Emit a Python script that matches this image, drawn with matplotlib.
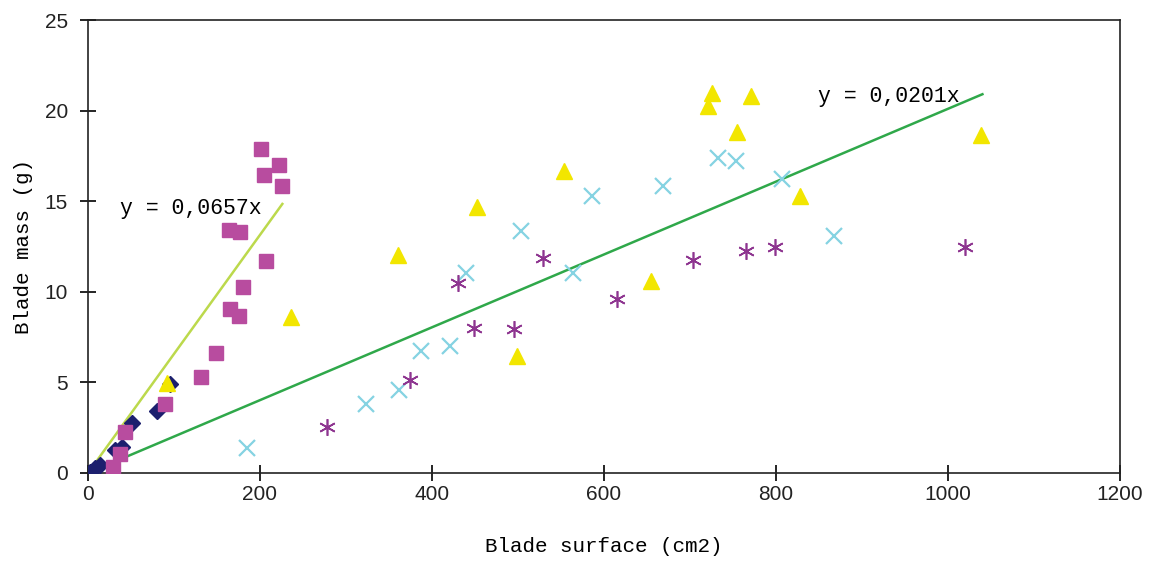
import matplotlib
matplotlib.use('Agg')
import matplotlib.pyplot as plt
import numpy as np

# series: blade surface (cm2) vs blade mass (g)
dia_x = [2, 8, 14, 31, 39, 51, 80, 95]
dia_y = [0.05, 0.25, 0.45, 1.25, 1.45, 2.75, 3.4, 4.9]

sq_x = [29, 37, 43, 90, 131, 149, 165, 176, 180, 207, 164, 177, 201, 205, 222, 226]
sq_y = [0.33, 1.05, 2.26, 3.8, 5.3, 6.62, 9.05, 8.66, 10.26, 11.7, 13.41, 13.3, 17.88, 16.45, 17.0, 15.84]

tri_x = [92, 236, 360, 452, 499, 553, 655, 721, 726, 755, 771, 828, 1038]
tri_y = [4.97, 8.6, 12.03, 14.7, 6.45, 16.67, 10.6, 20.25, 20.97, 18.8, 20.8, 15.3, 18.65]

cx_x = [185, 323, 362, 387, 421, 440, 503, 564, 586, 669, 733, 753, 807, 867]
cx_y = [1.38, 3.8, 4.58, 6.73, 7.0, 11.04, 13.36, 11.04, 15.3, 15.84, 17.38, 17.2, 16.2, 13.08]

ast_x = [278, 374, 430, 449, 495, 529, 615, 703, 765, 799, 1020]
ast_y = [2.55, 5.13, 10.5, 8.0, 7.95, 11.87, 9.6, 11.75, 12.25, 12.47, 12.47]

slope_a, xmax_a = 0.0657, 226
slope_b, xmax_b = 0.0201, 1040

mono = 'Liberation Mono'

fig = plt.figure(figsize=(11.53, 5.62), dpi=100)
ax = fig.add_axes([0.0763, 0.1584, 0.8951, 0.806])

ax.plot(dia_x, dia_y, 'D', color='#1c1f6e', ms=8, mec='#1c1f6e', zorder=3)
ax.plot(sq_x, sq_y, 's', color='#b84c9f', ms=10, zorder=3)
ax.plot(tri_x, tri_y, '^', color='#f2e600', ms=11, zorder=3)
ax.plot(cx_x, cx_y, 'x', color='#85d3e2', ms=11, mew=1.6, zorder=3)
ax.plot(ast_x, ast_y, marker=(6, 2, 0), ls='none', color='#8e3590', ms=12, mew=1.2, zorder=3)

xa = np.array([0, xmax_a])
xb = np.array([0, xmax_b])
ax.plot(xa, slope_a * xa, color='#bcd94c', lw=1.8, zorder=2)
ax.plot(xb, slope_b * xb, color='#2fa84a', lw=1.8, zorder=2)

ax.text(37, 14.6, 'y = 0,0657x', family=mono, fontsize=15.5, va='center')
ax.text(849, 20.8, 'y = 0,0201x', family=mono, fontsize=15.5, va='center')

ax.set_xlim(0, 1200)
ax.set_ylim(0, 25)
ax.set_xticks(range(0, 1201, 200))
ax.set_yticks(range(0, 26, 5))
ax.tick_params(direction='inout', length=11, width=1.2, labelsize=15)
ax.tick_params(axis='y', pad=9)
ax.tick_params(axis='x', pad=3)
for lab in ax.get_xticklabels() + ax.get_yticklabels():
    lab.set_family('Liberation Sans')
    lab.set_color('#222222')
for s in ax.spines.values():
    s.set_linewidth(1.2)
    s.set_color('#222222')

ax.set_xlabel('Blade surface (cm2)', family=mono, fontsize=15, labelpad=24)
ax.set_ylabel('Blade mass (g)', family=mono, fontsize=15, labelpad=8)

plt.savefig('out.png', dpi=100)
plt.close()
